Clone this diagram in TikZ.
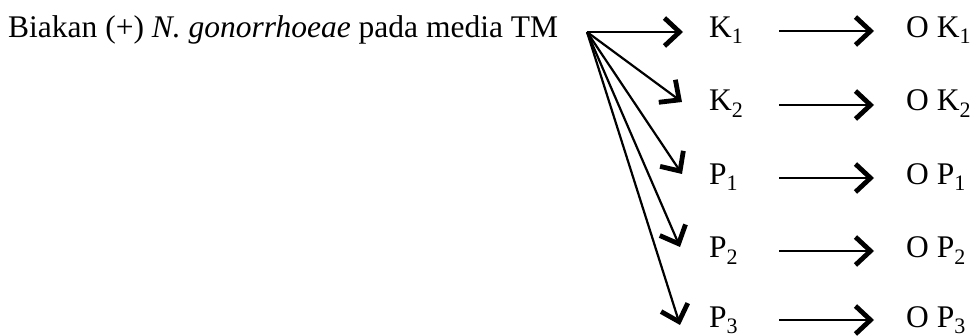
\documentclass[tikz,border=0pt]{standalone}
\usepackage{fontspec}
\setmainfont{Liberation Serif}
\usetikzlibrary{arrows.meta}
\begin{document}
\begin{tikzpicture}[x=1pt,y=-1pt,
  lbl/.style={font=\fontsize{31.5}{36}\selectfont, inner sep=0pt, anchor=base west},
  arr/.style={line width=2.2pt, -{Straight Barb[length=15pt,width=28pt,line width=4.8pt]}}]
\useasboundingbox (0,0) rectangle (976,336);
\node[lbl] (src) at (8,38) {Biakan (+) \textit{N. gonorrhoeae} pada media TM};
\coordinate (o) at (587,32);
\node[lbl] (k1) at (709,38) {K\textsubscript{1}};
\node[lbl] (k2) at (709,111) {K\textsubscript{2}};
\node[lbl] (p1) at (709,185) {P\textsubscript{1}};
\node[lbl] (p2) at (709,258) {P\textsubscript{2}};
\node[lbl] (p3) at (709,327) {P\textsubscript{3}};
\node[lbl] (ok1) at (906,38) {O K\textsubscript{1}};
\node[lbl] (ok2) at (906,111) {O K\textsubscript{2}};
\node[lbl] (op1) at (906,185) {O P\textsubscript{1}};
\node[lbl] (op2) at (906,258) {O P\textsubscript{2}};
\node[lbl] (op3) at (906,327) {O P\textsubscript{3}};
\coordinate (t1) at (683,32);
\coordinate (t2) at (682,102);
\coordinate (t3) at (682,174);
\coordinate (t4) at (680,247);
\coordinate (t5) at (680,325);
\draw[arr] (o) -- (t1);
\draw[arr] (o) -- (t2);
\draw[arr] (o) -- (t3);
\draw[arr] (o) -- (t4);
\draw[arr] (o) -- (t5);
\foreach \a/\b/\y in {k1/ok1/31,k2/ok2/105,p1/op1/178,p2/op2/251,p3/op3/320}{
  \coordinate (\a s) at (779,\y);
  \coordinate (\a e) at (874,\y);
  \draw[arr] (\a s) -- (\a e);
}
\end{tikzpicture}
\end{document}
